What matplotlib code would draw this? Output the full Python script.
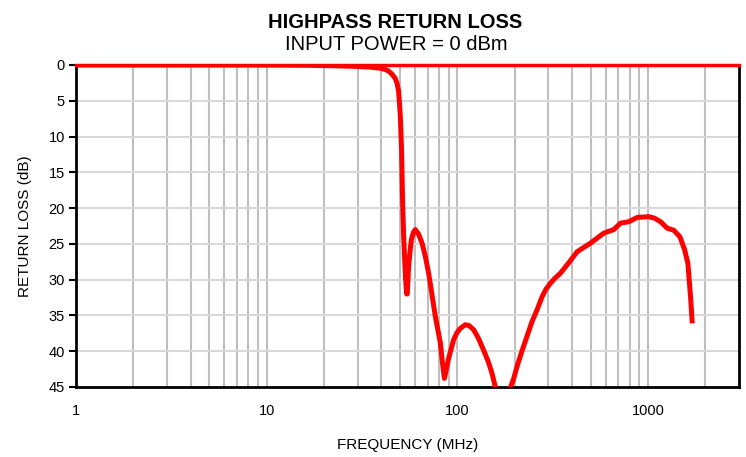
import numpy as np
import matplotlib
matplotlib.use("Agg")
import matplotlib.pyplot as plt
from matplotlib.ticker import FixedLocator, NullFormatter

plt.rcParams['font.family'] = ['Liberation Sans', 'DejaVu Sans']

# frequency (MHz) and return loss (dB)
freq = [1, 2, 5, 10, 16, 20, 25, 30, 35, 39.4, 42, 43.6, 45.5, 47.3, 48.3,
        49.2, 50.2, 51, 51.6, 52.3, 52.9, 53.5, 54.2, 54.6, 55.5, 56.5, 57.4,
        58.8, 60.2, 62.5, 65.3, 68, 70.7, 73.5, 76.6, 79, 81.4, 83.5, 85.5,
        87.5, 90, 95.6, 99.6, 103.7, 110, 115, 121.8, 129, 137, 145, 152,
        158.5, 175, 189.7, 197.6, 205.8, 218, 232, 246, 262, 278, 292, 307.7,
        325, 347, 385, 425, 460, 499, 540, 586, 661, 717, 793, 878, 1009,
        1080, 1163, 1260, 1366, 1469, 1555, 1618, 1671, 1706]
return_loss = [0, 0, 0, 0, 0.03, 0.08, 0.14, 0.2, 0.3, 0.45, 0.65, 0.85, 1.3,
               1.9, 2.6, 3.7, 7.0, 12.0, 18.9, 24.0, 27.0, 29.8, 32.0, 32.0,
               28.2, 26.0, 24.4, 23.4, 23.0, 23.6, 24.9, 26.8, 29.1, 32.0,
               35.1, 37.0, 38.8, 41.6, 43.8, 42.6, 41.0, 38.4, 37.4, 36.8,
               36.3, 36.4, 37.0, 38.2, 39.8, 41.4, 43.1, 45.1, 52.0, 45.1,
               43.8, 42.1, 40.0, 37.9, 35.9, 34.2, 32.4, 31.3, 30.5, 29.8,
               29.1, 27.6, 26.1, 25.5, 24.9, 24.2, 23.5, 23.0, 22.1, 21.9,
               21.3, 21.2, 21.4, 21.9, 22.8, 23.1, 24.0, 25.8, 27.7, 32.4,
               36.1]

x_labels = [1, 10, 100, 1000]
y_ticks = [0, 5, 10, 15, 20, 25, 30, 35, 40, 45]

fig = plt.figure(figsize=(7.46, 4.57), dpi=100)
ax = fig.add_axes([76 / 746, 70 / 457, 663 / 746, 322 / 457])

ax.plot(freq, return_loss, color='#ff0000', linewidth=3.6, solid_joinstyle='round',
        solid_capstyle='butt', zorder=3)

ax.set_xscale('log')
ax.set_xlim(1, 3000)
ax.set_ylim(45, 0)

# vertical grid at every 1-9 step of each decade
grid_x = [m * 10 ** d for d in range(4) for m in range(1, 10) if 1 < m * 10 ** d < 3000]
for gx in grid_x:
    ax.axvline(gx, color='#bfbfbf', linewidth=1.5, zorder=1)
for gy in y_ticks[1:-1]:
    ax.axhline(gy, color='#d9d9d9', linewidth=1.5, zorder=1)

ax.xaxis.set_major_locator(FixedLocator(x_labels))
ax.set_xticklabels([str(v) for v in x_labels])
ax.xaxis.set_minor_formatter(NullFormatter())
ax.tick_params(axis='x', which='both', length=0, pad=12, labelsize=10.5)
ax.set_yticks(y_ticks)
ax.tick_params(axis='y', length=5, width=1.5, pad=3, labelsize=10.5, direction='out')

for side in ['left', 'bottom', 'right']:
    ax.spines[side].set_color('black')
    ax.spines[side].set_linewidth(2)
ax.spines['top'].set_color('#ff0000')
ax.spines['top'].set_linewidth(2.5)

ax.set_xlabel('FREQUENCY (MHz)', fontsize=11, labelpad=15)
ax.set_ylabel('RETURN LOSS (dB)', fontsize=11, labelpad=12)

fig.text(395 / 746, 1 - 22 / 457, 'HIGHPASS RETURN LOSS', ha='center', va='center',
         fontsize=14.5, fontweight='bold')
fig.text(396 / 746, 1 - 45 / 457, 'INPUT POWER = 0 dBm', ha='center', va='center',
         fontsize=14.5)

fig.savefig('out.png', dpi=100)
